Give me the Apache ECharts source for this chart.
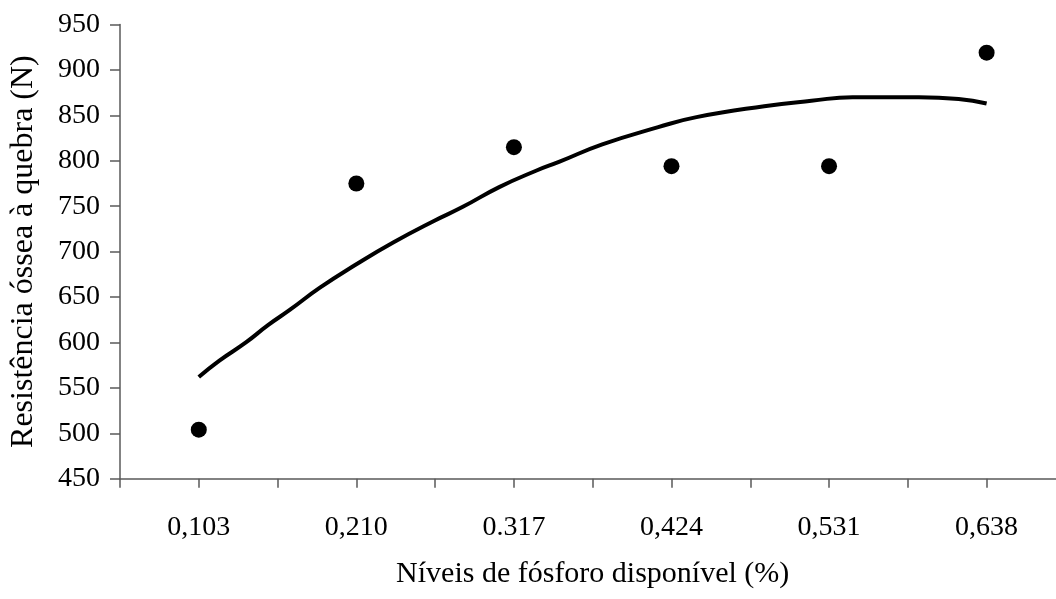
<!DOCTYPE html>
<html>
<head>
<meta charset="utf-8">
<style>
  html, body { margin: 0; padding: 0; background: #ffffff; }
  #chart { width: 1056px; height: 599px; }
</style>
<script src="https://cdn.jsdelivr.net/npm/echarts@6/dist/echarts.min.js"></script>
</head>
<body>
<div id="chart"></div>
<script>
// Available phosphorus levels (%) shown on the x axis
const levelLabels = ['0,103', '0,210', '0.317', '0,424', '0,531', '0,638'];
const levels = [0.103, 0.210, 0.317, 0.424, 0.531, 0.638];

// Observed bone breaking strength (N) at each level
const observed = [504, 775, 815, 794, 794, 919];

// Fitted response curve: level (%) and strength (N)
const fitLevels = [0.103, 0.117, 0.135, 0.150, 0.165, 0.185, 0.210, 0.235, 0.263, 0.282,
                   0.307, 0.332, 0.348, 0.377, 0.415, 0.441, 0.487, 0.519, 0.547, 0.592,
                   0.619, 0.638];
const fitValues = [562, 580, 600, 619, 636, 660, 686, 710, 734, 749,
                   771, 789, 799, 818, 837, 848, 860, 866, 870, 870,
                   868, 863];

// Y axis ticks
const yMin = 450, yMax = 950, yStep = 50;

// The x axis is laid out in slots: each level sits on an odd slot,
// with an extra tick midway between neighbouring levels.
const levelStep = levels[1] - levels[0];
const toSlot = v => 1 + 2 * (v - levels[0]) / levelStep;

const serif = "'Liberation Serif', 'Times New Roman', serif";
const axisColor = '#5a5a5a';

const chart = echarts.init(document.getElementById('chart'), null, { renderer: 'canvas' });
chart.setOption({
  backgroundColor: '#ffffff',
  animation: false,
  grid: {
    left: 120, top: 24.5, bottom: 120.3, right: -9.4,
    containLabel: false,
    outerBoundsMode: 'none'
  },
  xAxis: {
    type: 'value',
    min: 0, max: 12, interval: 1,
    splitLine: { show: false },
    axisLine: { lineStyle: { color: axisColor, width: 1.5 } },
    axisTick: { show: true, inside: false, length: 9, lineStyle: { color: axisColor, width: 1.5 } },
    axisLabel: {
      margin: 35,
      fontFamily: serif, fontSize: 28, color: '#000',
      showMinLabel: true, showMaxLabel: false,
      formatter: v => {
        const i = Math.round(v);
        if (i % 2 === 1 && Math.abs(v - i) < 1e-6) return levelLabels[(i - 1) / 2] || '';
        return '';
      }
    },
    name: 'Níveis de fósforo disponível (%)',
    nameLocation: 'middle',
    nameGap: 80,
    nameTextStyle: { fontFamily: serif, fontSize: 30, color: '#000' }
  },
  yAxis: {
    type: 'value',
    min: yMin, max: yMax, interval: yStep,
    splitLine: { show: false },
    axisLine: { show: true, lineStyle: { color: axisColor, width: 1.5 } },
    axisTick: { show: true, inside: false, length: 10, lineStyle: { color: axisColor, width: 1.5 } },
    axisLabel: { margin: 20, fontFamily: serif, fontSize: 28, color: '#000' },
    name: 'Resistência óssea à quebra (N)',
    nameLocation: 'middle',
    nameGap: 80,
    nameRotate: 90,
    nameTextStyle: { fontFamily: serif, fontSize: 32, color: '#000' }
  },
  series: [
    {
      type: 'line',
      data: fitLevels.map((x, i) => [toSlot(x), fitValues[i]]),
      smooth: true,
      showSymbol: false,
      lineStyle: { color: '#000', width: 4 },
      z: 2
    },
    {
      type: 'scatter',
      data: levels.map((x, i) => [toSlot(x), observed[i]]),
      symbol: 'circle',
      symbolSize: 16,
      itemStyle: { color: '#000', opacity: 1 },
      z: 3
    }
  ]
});
</script>
</body>
</html>
